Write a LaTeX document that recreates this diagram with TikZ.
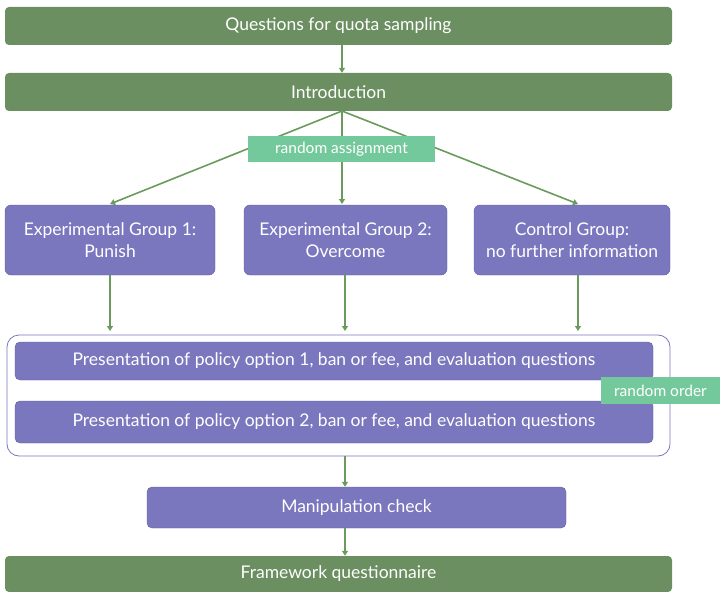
\documentclass[tikz,border=0pt]{standalone}
\usepackage{fontspec}
\setmainfont{Lato}
\usetikzlibrary{arrows.meta}
\definecolor{dgreen}{HTML}{6B8F61}
\definecolor{lgreen}{HTML}{74C99C}
\definecolor{purp}{HTML}{7A77BF}
\definecolor{agreen}{HTML}{6A9A5C}
\begin{document}
\begin{tikzpicture}[x=1pt,y=-1pt,
  gbox/.style={fill=dgreen,rounded corners=4pt,text=white,font=\fontsize{17.5}{21}\selectfont,inner sep=0pt},
  pbox/.style={fill=purp,draw=purp!80!black,line width=0.4pt,rounded corners=6pt,text=white,font=\fontsize{17.5}{22}\selectfont,align=center,inner sep=0pt},
  lbox/.style={fill=lgreen,text=white,font=\fontsize{15.5}{18}\selectfont,inner sep=0pt},
  arr/.style={draw=agreen,line width=1.6pt,-{Triangle[width=6pt,length=5pt]}},
  ln/.style={draw=agreen,line width=1.6pt}]
\useasboundingbox (0,0) rectangle (722,591);
\node[gbox,minimum width=667pt,minimum height=38pt] (q) at (338.5,26) {Questions for quota sampling};
\node[gbox,minimum width=667pt,minimum height=38pt] (intro) at (338.5,92) {Introduction};
\node[pbox,minimum width=210pt,minimum height=70pt] (g1) at (110,240) {Experimental Group 1:\\Punish};
\node[pbox,minimum width=203pt,minimum height=70pt] (g2) at (345.5,240) {Experimental Group 2:\\Overcome};
\node[pbox,minimum width=196pt,minimum height=70pt] (g3) at (572,240) {Control Group:\\no further information};
\node[draw=purp,line width=0.8pt,fill=white,rounded corners=12pt,minimum width=663pt,minimum height=121pt,inner sep=0pt] (outer) at (338.5,395.5) {};
\node[pbox,minimum width=638pt,minimum height=38pt,rounded corners=5pt] (p1) at (334,361) {Presentation of policy option 1, ban or fee, and evaluation questions};
\node[pbox,minimum width=638pt,minimum height=42pt,rounded corners=5pt] (p2) at (334,422) {Presentation of policy option 2, ban or fee, and evaluation questions};
\node[lbox,minimum width=119pt,minimum height=27pt] (ro) at (660.5,390.5) {random order};
\node[pbox,minimum width=419pt,minimum height=41pt,rounded corners=5pt] (mc) at (356.5,507.5) {Manipulation check};
\node[gbox,minimum width=667pt,minimum height=36pt] (fw) at (338.5,574) {Framework questionnaire};
\coordinate (src) at (342,111);
\coordinate (t1) at (110,204);
\coordinate (t2) at (342,204);
\coordinate (t3) at (578,204);
\draw[arr] (q.south -| src) -- (intro.north -| src);
\draw[arr] (src) -- (t1);
\draw[arr] (src) -- (t2);
\draw[arr] (src) -- (t3);
\node[lbox,minimum width=187pt,minimum height=26pt] (ra) at (341.5,149) {random assignment};
\coordinate (b1) at (110,331);
\coordinate (b2) at (345,331);
\coordinate (b3) at (578,331);
\draw[arr] (g1.south -| b1) -- (b1);
\draw[arr] (g2.south -| b2) -- (b2);
\draw[arr] (g3.south -| b3) -- (b3);
\draw[arr] (outer.south -| b2) -- (mc.north -| b2);
\draw[arr] (mc.south -| b2) -- (fw.north -| b2);
\end{tikzpicture}
\end{document}
